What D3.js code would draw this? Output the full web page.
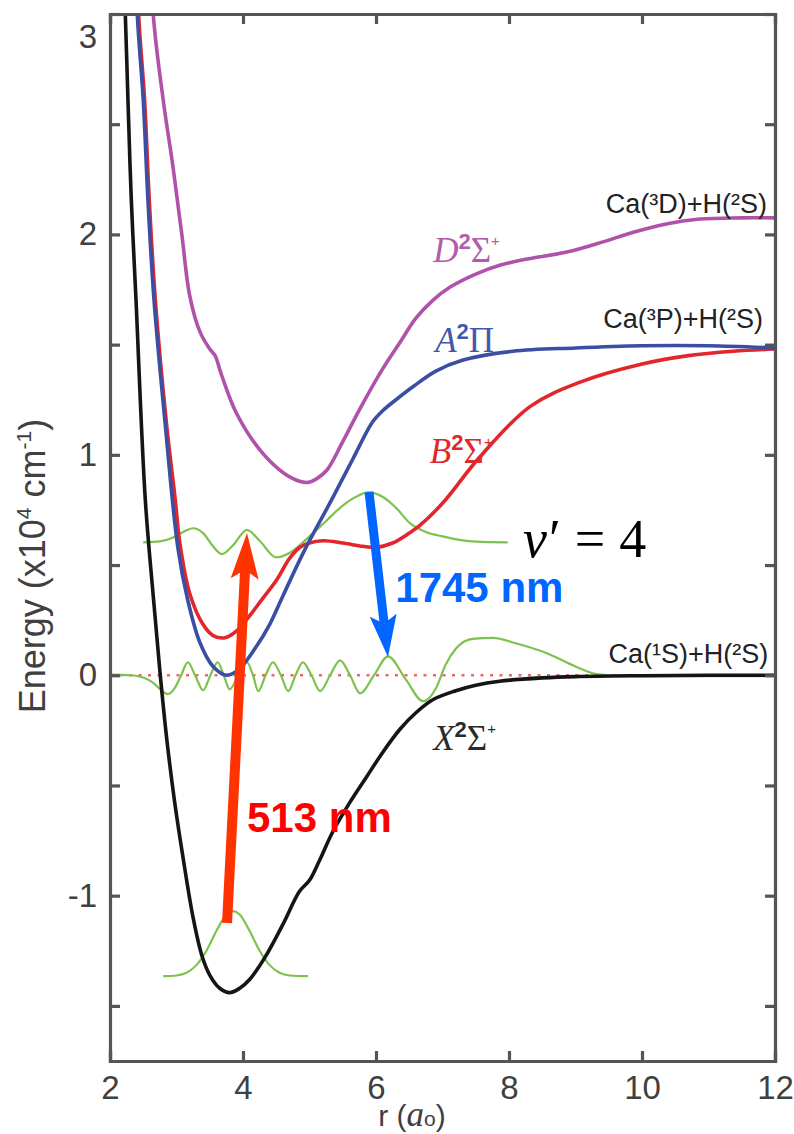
<!DOCTYPE html>
<html>
<head>
<meta charset="utf-8">
<script src="https://cdn.jsdelivr.net/npm/d3@7"></script>
<style>
  body { margin: 0; background: #fff; }
  svg { display: block; }
</style>
</head>
<body>
<script>
// potential energy curves of CaH (r in a0, energy in 10^4 cm-1)

// X 2Sigma+ ground state
var rX = [2.15, 2.23, 2.27, 2.32, 2.39, 2.53, 2.65, 2.75, 2.85, 2.97, 3.1, 3.25, 3.38, 3.5, 3.65, 3.8, 3.95, 4.1, 4.33, 4.6, 4.85, 5.0, 5.15, 5.35, 5.6, 5.86, 6.1, 6.36, 6.6, 6.86, 7.2, 7.5, 7.86, 8.5, 9.0, 10, 11, 12];
var eX = [3.6, 3.0, 2.61, 2.16, 1.71, 0.80, 0.36, 0.02, -0.28, -0.57, -0.83, -1.10, -1.27, -1.36, -1.42, -1.44, -1.42, -1.38, -1.28, -1.13, -0.98, -0.93, -0.84, -0.71, -0.58, -0.46, -0.35, -0.245, -0.17, -0.11, -0.07, -0.045, -0.027, -0.012, -0.006, -0.002, 0, 0];

// A 2Pi
var rA = [2.35, 2.41, 2.5, 2.57, 2.66, 2.83, 3.02, 3.17, 3.35, 3.55, 3.76, 3.95, 4.2, 4.4, 4.6, 4.93, 5.34, 5.65, 5.95, 6.1, 6.3, 6.56, 6.9, 7.31, 8.06, 9.0, 10, 11, 12];
var eA = [3.6, 3.0, 2.61, 2.16, 1.71, 1.14, 0.58, 0.34, 0.15, 0.04, 0.0, 0.03, 0.13, 0.23, 0.36, 0.57, 0.80, 0.98, 1.15, 1.20, 1.25, 1.31, 1.38, 1.43, 1.47, 1.485, 1.495, 1.495, 1.485];

// B 2Sigma+
var rB = [2.37, 2.43, 2.52, 2.59, 2.68, 2.85, 2.98, 3.05, 3.2, 3.4, 3.55, 3.73, 3.9, 4.1, 4.3, 4.5, 4.7, 4.85, 5.0, 5.2, 5.5, 5.8, 6.0, 6.25, 6.5, 6.66, 7.0, 7.56, 8.32, 9.07, 9.97, 10.7, 11.37, 12];
var eB = [3.6, 3.0, 2.61, 2.16, 1.71, 1.14, 0.80, 0.60, 0.37, 0.23, 0.18, 0.17, 0.20, 0.27, 0.35, 0.43, 0.53, 0.58, 0.60, 0.61, 0.60, 0.585, 0.58, 0.60, 0.645, 0.68, 0.78, 0.99, 1.22, 1.33, 1.41, 1.45, 1.47, 1.48];

// D 2Sigma+
var rD = [2.58, 2.65, 2.8, 2.95, 3.08, 3.2, 3.35, 3.5, 3.58, 3.68, 3.9, 4.26, 4.6, 4.85, 4.98, 5.1, 5.26, 5.5, 5.76, 6.1, 6.36, 6.6, 6.85, 7.11, 7.5, 7.86, 8.3, 8.87, 9.4, 9.87, 10.4, 10.87, 11.5, 12];
var eD = [3.6, 3.0, 2.61, 2.30, 2.0, 1.72, 1.56, 1.48, 1.45, 1.36, 1.19, 1.02, 0.92, 0.88, 0.875, 0.89, 0.93, 1.06, 1.21, 1.39, 1.51, 1.62, 1.70, 1.76, 1.82, 1.86, 1.89, 1.92, 1.965, 2.01, 2.05, 2.07, 2.075, 2.075];

// vibrational wavefunctions (green)
var rW0 = [2.8, 3.0, 3.15, 3.3, 3.45, 3.6, 3.75, 3.85, 3.95, 4.1, 4.25, 4.4, 4.55, 4.7, 4.98];
var eW0 = [-1.365, -1.362, -1.35, -1.315, -1.25, -1.16, -1.085, -1.07, -1.085, -1.16, -1.25, -1.315, -1.35, -1.362, -1.365];

var rW4 = [2.5, 2.75, 2.95, 3.1, 3.25, 3.4, 3.55, 3.68, 3.85, 4.06, 4.25, 4.5, 4.7, 5.0, 5.25, 5.5, 5.7, 5.88, 6.1, 6.3, 6.51, 6.75, 7.0, 7.3, 7.6, 7.98];
var eW4 = [0.603, 0.607, 0.625, 0.65, 0.667, 0.645, 0.585, 0.55, 0.59, 0.66, 0.61, 0.535, 0.555, 0.63, 0.70, 0.77, 0.81, 0.83, 0.81, 0.76, 0.69, 0.65, 0.63, 0.612, 0.605, 0.603];

var rWc = [2.0, 2.3, 2.5, 2.65, 2.78, 2.87, 2.97, 3.07, 3.17, 3.28, 3.4, 3.51, 3.62, 3.71, 3.8, 3.93, 4.06, 4.15, 4.23, 4.34, 4.45, 4.57, 4.68, 4.79, 4.9, 5.03, 5.16, 5.31, 5.46, 5.61, 5.76, 5.97, 6.18, 6.45, 6.71, 6.9, 7.05, 7.2, 7.45, 7.76, 8.1, 8.57, 9.0, 9.32, 9.7, 12];
var eWc = [0.003, 0.0, -0.01, -0.035, -0.07, -0.086, -0.06, 0.0, 0.059, 0.0, -0.068, 0.0, 0.059, 0.0, -0.064, 0.0, 0.059, 0.0, -0.072, 0.0, 0.059, 0.0, -0.072, 0.0, 0.059, 0.0, -0.072, 0.0, 0.068, 0.0, -0.082, 0.0, 0.086, -0.02, -0.118, -0.06, 0.05, 0.12, 0.165, 0.17, 0.145, 0.10, 0.04, 0.005, -0.004, -0.004];

// transitions [start, end] in (r, E)
var arrow513 = [[3.76, -1.124], [4.06, 0.645]];
var arrow1745 = [[5.895, 0.831], [6.18, 0.083]];

// ticks
var xTicks = [2, 4, 6, 8, 10, 12];
var yTicks = [-1.5, -1, -0.5, 0, 0.5, 1, 1.5, 2, 2.5, 3];

//Width and height
var w = 794;
var h = 1134;

var svg = d3.select("body")
            .append("svg")
            .attr("width", w)
            .attr("height", h);

var x = d3.scaleLinear().domain([2, 12]).range([110, 775]);
var y = d3.scaleLinear().domain([-1.75, 3]).range([1061, 14]);

var axisColor = "#555555";
var textColor = "#404040";

svg.append("clipPath")
   .attr("id", "plotclip")
   .append("rect")
   .attr("x", 110).attr("y", 14)
   .attr("width", 665).attr("height", 1047);

var plot = svg.append("g").attr("clip-path", "url(#plotclip)");

// dissociation limit, dotted
plot.append("line")
    .attr("x1", x(2)).attr("x2", x(12))
    .attr("y1", y(0)).attr("y2", y(0))
    .attr("stroke", "#e36b6b")
    .attr("stroke-width", 2.5)
    .attr("stroke-dasharray", "3,6.5");

var waveLine = d3.line()
                 .x(function(d) { return x(d[0]); })
                 .y(function(d) { return y(d[1]); })
                 .curve(d3.curveMonotoneX);

var potLine = d3.line()
                .x(function(d) { return x(d[0]); })
                .y(function(d) { return y(d[1]); })
                .curve(d3.curveCatmullRom.alpha(0.5));

function curve(rs, es, color, width, gen) {
  plot.append("path")
      .datum(d3.zip(rs, es))
      .attr("d", gen)
      .attr("fill", "none")
      .attr("stroke", color)
      .attr("stroke-width", width)
      .attr("stroke-linejoin", "round");
}

// wavefunctions first, potentials over them
curve(rW0, eW0, "#7cc24c", 2.2, waveLine);
curve(rW4, eW4, "#7cc24c", 2.2, waveLine);
curve(rWc, eWc, "#7cc24c", 2.2, waveLine);

curve(rD, eD, "#b052a9", 3.6, potLine);
curve(rB, eB, "#e2262b", 3.6, potLine);
curve(rA, eA, "#3a4ea3", 3.6, potLine);
curve(rX, eX, "#151515", 3.6, potLine);

// arrows
function arrow(pts, color, shaftW, headL, headW) {
  var x0 = x(pts[0][0]), y0 = y(pts[0][1]);
  var x1 = x(pts[1][0]), y1 = y(pts[1][1]);
  var dx = x1 - x0, dy = y1 - y0;
  var len = Math.sqrt(dx * dx + dy * dy);
  var ux = dx / len, uy = dy / len;
  var bx = x1 - ux * headL, by = y1 - uy * headL;   // back corners of head
  var nx = x1 - ux * headL * 0.8, ny = y1 - uy * headL * 0.8;  // notch
  svg.append("line")
     .attr("x1", x0).attr("y1", y0)
     .attr("x2", nx).attr("y2", ny)
     .attr("stroke", color)
     .attr("stroke-width", shaftW);
  svg.append("path")
     .attr("d", "M" + x1 + "," + y1 +
                "L" + (bx - uy * headW / 2) + "," + (by + ux * headW / 2) +
                "L" + nx + "," + ny +
                "L" + (bx + uy * headW / 2) + "," + (by - ux * headW / 2) + "Z")
     .attr("fill", color);
}

arrow(arrow513, "#ff3300", 10, 46, 28);
arrow(arrow1745, "#0066ff", 9, 42, 27);

// axes box
var xAxis = d3.axisBottom(x).tickValues(xTicks).tickSize(-10).tickPadding(15)
              .tickFormat(function(d) { return String(d); });
var xTop = d3.axisTop(x).tickValues(xTicks).tickSize(-10).tickFormat("");
var yAxis = d3.axisLeft(y).tickValues(yTicks).tickSize(-10).tickPadding(13)
              .tickFormat(function(d) { return Number.isInteger(d) ? String(d) : ""; });
var yRight = d3.axisRight(y).tickValues(yTicks).tickSize(-10).tickFormat("");

function styleAxis(g) {
  g.select(".domain").attr("stroke", axisColor).attr("stroke-width", 3.2);
  g.selectAll(".tick line").attr("stroke", axisColor).attr("stroke-width", 3.2);
  g.selectAll(".tick text")
   .attr("fill", textColor)
   .attr("font-family", "Liberation Sans, Arial, sans-serif")
   .attr("font-size", "33px");
}

svg.append("g").attr("transform", "translate(0,1061)").call(xAxis).call(styleAxis);
svg.append("g").attr("transform", "translate(0,14)").call(xTop).call(styleAxis);
svg.append("g").attr("transform", "translate(110,0)").call(yAxis).call(styleAxis);
svg.append("g").attr("transform", "translate(775,0)").call(yRight).call(styleAxis);

// top label "3" sits below the corner
svg.selectAll(".tick text")
   .filter(function(d) { return d === 3; })
   .attr("dy", "1.0em");

// axis titles
var ylab = svg.append("text")
   .attr("transform", "translate(45,566) rotate(-90)")
   .attr("text-anchor", "middle")
   .attr("fill", textColor)
   .attr("font-family", "Liberation Sans, Arial, sans-serif")
   .attr("font-size", "36px");
ylab.append("tspan").text("Energy (x10");
ylab.append("tspan").attr("font-size", "21px").attr("dy", -14).text("4");
ylab.append("tspan").attr("dy", 14).text(" cm");
ylab.append("tspan").attr("font-size", "21px").attr("dy", -14).text("-1");
ylab.append("tspan").attr("dy", 14).text(")");

var xlab = svg.append("text")
   .attr("x", 412).attr("y", 1126)
   .attr("text-anchor", "middle")
   .attr("fill", textColor)
   .attr("font-family", "Liberation Sans, Arial, sans-serif")
   .attr("font-size", "30px");
xlab.append("tspan").text("r (");
xlab.append("tspan").attr("font-family", "Liberation Serif, serif").attr("font-style", "italic").attr("font-size", "35px").text("a");
xlab.append("tspan").attr("font-size", "21px").text("o");
xlab.append("tspan").text(")");

// state labels
var stateNames = ["D", "A", "B", "X"];
var stateSyms = ["\u03A3", "\u03A0", "\u03A3", "\u03A3"];
var stateSups = ["+", "", "+", "+"];
var stateR = [6.86, 6.89, 6.81, 6.86];
var stateE = [1.875, 1.467, 0.963, -0.339];
var stateColors = ["#b35aae", "#4458aa", "#e0282c", "#2a2a2a"];

stateNames.forEach(function(n, i) {
  var t = svg.append("text")
     .attr("x", x(stateR[i])).attr("y", y(stateE[i]))
     .attr("fill", stateColors[i])
     .attr("font-family", "Liberation Serif, serif")
     .attr("font-size", "35px");
  t.append("tspan").attr("font-style", "italic").text(n);
  t.append("tspan").attr("font-family", "Liberation Sans, Arial, sans-serif")
   .attr("font-weight", "bold").attr("font-size", "22px").attr("dy", -13).text("2");
  t.append("tspan").attr("dy", 13).text(stateSyms[i]);
  if (stateSups[i]) {
    t.append("tspan").attr("font-family", "Liberation Sans, Arial, sans-serif")
     .attr("font-size", "15px").attr("dy", -16).text(stateSups[i]);
  }
});

// asymptote labels
var limitText = ["Ca(\u00B3D)+H(\u00B2S)", "Ca(\u00B3P)+H(\u00B2S)", "Ca(\u00B9S)+H(\u00B2S)"];
var limitR = [11.88, 11.82, 11.9];
var limitE = [2.097, 1.575, 0.056];

svg.selectAll("text.limit")
   .data(limitText)
   .enter()
   .append("text")
   .attr("class", "limit")
   .attr("x", function(d, i) { return x(limitR[i]); })
   .attr("y", function(d, i) { return y(limitE[i]); })
   .attr("text-anchor", "end")
   .attr("fill", "#222")
   .attr("font-family", "Liberation Sans, Arial, sans-serif")
   .attr("font-size", "27px")
   .text(function(d) { return d; });

// v' = 4
var vt = svg.append("text")
   .attr("x", x(8.21)).attr("y", y(0.537))
   .attr("fill", "#000")
   .attr("font-family", "Liberation Serif, serif")
   .attr("font-size", "54px");
vt.append("tspan").attr("font-style", "italic").text("v");
vt.append("tspan").attr("dx", 2).text("\u2032");
vt.append("tspan").attr("dx", 14).text("=");
vt.append("tspan").attr("dx", 14).text("4");

// wavelengths
svg.append("text")
   .attr("x", x(6.29)).attr("y", y(0.332))
   .attr("fill", "#0066ff")
   .attr("font-family", "Liberation Sans, Arial, sans-serif")
   .attr("font-weight", "bold")
   .attr("font-size", "42px")
   .text("1745 nm");

svg.append("text")
   .attr("x", x(4.06)).attr("y", y(-0.711))
   .attr("fill", "#ff0000")
   .attr("font-family", "Liberation Sans, Arial, sans-serif")
   .attr("font-weight", "bold")
   .attr("font-size", "42px")
   .text("513 nm");
</script>
</body>
</html>
